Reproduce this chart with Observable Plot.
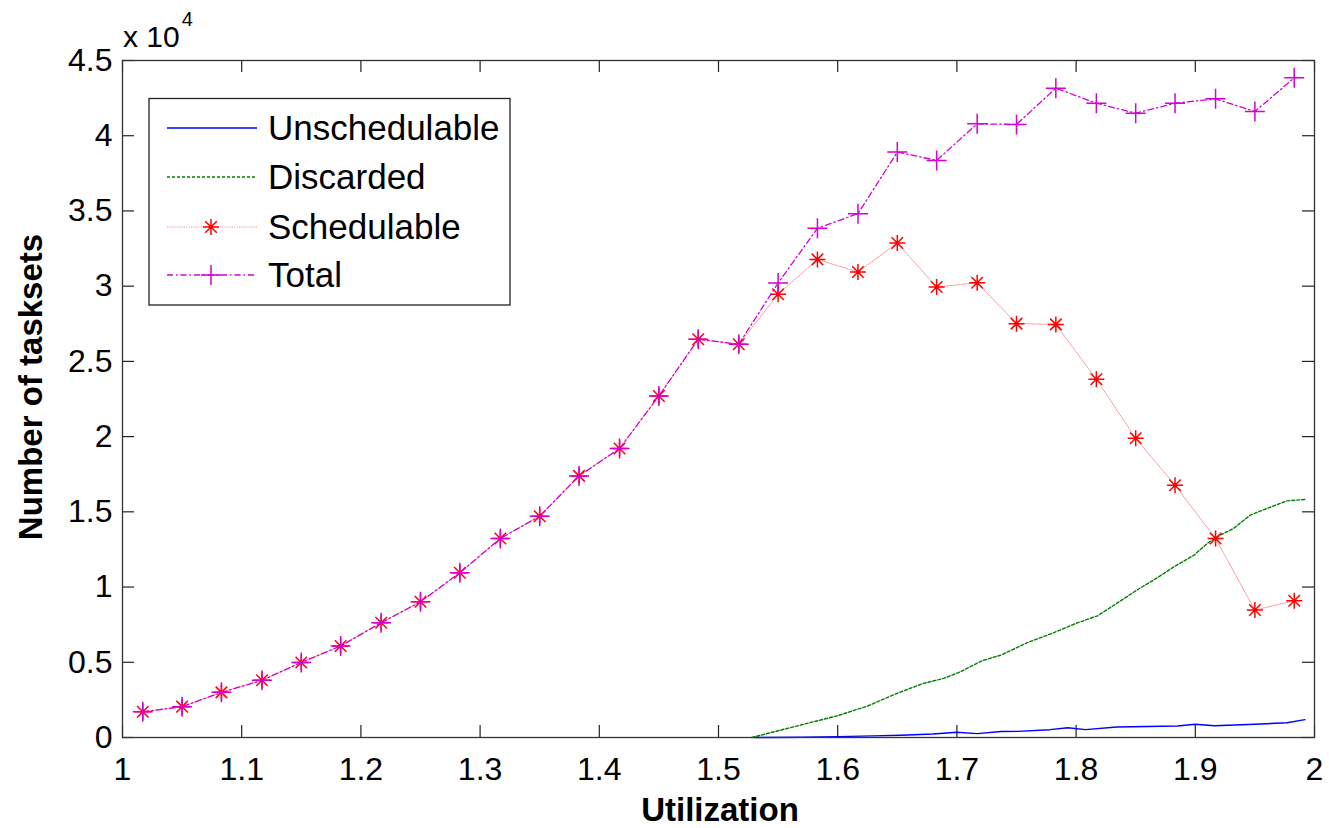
<!DOCTYPE html>
<html>
<head>
<meta charset="utf-8">
<script src="https://cdn.jsdelivr.net/npm/d3@7"></script>
<script src="https://cdn.jsdelivr.net/npm/@observablehq/plot@0.6"></script>
<style>
  html, body { margin: 0; padding: 0; background: #fff; }
  #chart { width: 1329px; height: 828px; }
</style>
</head>
<body>
<div id="chart"></div>
<script>
// ---- data ----
const utilization = [1.017, 1.05, 1.083, 1.117, 1.15, 1.183, 1.217, 1.25, 1.283, 1.317,
  1.35, 1.383, 1.417, 1.45, 1.483, 1.517, 1.55, 1.583, 1.617, 1.65,
  1.683, 1.717, 1.75, 1.783, 1.817, 1.85, 1.883, 1.917, 1.95, 1.983];
const totalValues = [1710, 2050, 3000, 3800, 4990, 6080, 7630, 9020, 10950, 13230,
  14710, 17390, 19210, 22700, 26470, 26140, 30210, 33850, 34820, 38910,
  38360, 40790, 40750, 43160, 42160, 41500, 42160, 42450, 41610, 43850];
const schedulableValues = [1710, 2050, 3000, 3800, 4990, 6080, 7630, 9020, 10950, 13230,
  14710, 17390, 19210, 22700, 26470, 26140, 29460, 31780, 30940, 32870,
  29940, 30230, 27510, 27460, 23810, 19890, 16770, 13230, 8470, 9090];
const discardedU = [1.528, 1.545, 1.569, 1.6, 1.625, 1.65, 1.672, 1.689, 1.703, 1.721,
  1.737, 1.759, 1.781, 1.801, 1.818, 1.834, 1.851, 1.865, 1.882, 1.899,
  1.91, 1.921, 1.932, 1.946, 1.96, 1.977, 1.992];
const discardedValues = [0, 350, 830, 1450, 2090, 2940, 3600, 3930, 4370, 5100,
  5480, 6300, 6960, 7620, 8090, 8910, 9800, 10460, 11340, 12120,
  12900, 13450, 13890, 14780, 15220, 15730, 15820];
const unschedU = [1.53, 1.57, 1.6, 1.63, 1.653, 1.68, 1.7, 1.717, 1.737, 1.751,
  1.778, 1.793, 1.808, 1.834, 1.885, 1.9, 1.916, 1.95, 1.977, 1.992];
const unschedValues = [0, 20, 60, 110, 150, 230, 350, 260, 400, 410,
  520, 650, 520, 700, 760, 880, 780, 880, 980, 1190];
const xTicks = [1, 1.1, 1.2, 1.3, 1.4, 1.5, 1.6, 1.7, 1.8, 1.9, 2];
const yTicks = [0, 5000, 10000, 15000, 20000, 25000, 30000, 35000, 40000, 45000];
const seriesNames = ["Unschedulable", "Discarded", "Schedulable", "Total"];

// ---- build tables ----
const totalData = utilization.map((u, i) => ({u, v: totalValues[i]}));
const schedData = utilization.map((u, i) => ({u, v: schedulableValues[i]}));
const discData = discardedU.map((u, i) => ({u, v: discardedValues[i]}));
const unschedData = unschedU.map((u, i) => ({u, v: unschedValues[i]}));

// custom MATLAB-like markers
const asterisk = {
  draw(ctx, size) {
    const r = Math.sqrt(size / Math.PI), d = r * 0.72;
    ctx.moveTo(-r, 0); ctx.lineTo(r, 0);
    ctx.moveTo(0, -r); ctx.lineTo(0, r);
    ctx.moveTo(-d, -d); ctx.lineTo(d, d);
    ctx.moveTo(-d, d); ctx.lineTo(d, -d);
  }
};
const plus = {
  draw(ctx, size) {
    const r = Math.sqrt(size / Math.PI);
    ctx.moveTo(-r, 0); ctx.lineTo(r, 0);
    ctx.moveTo(0, -r); ctx.lineTo(0, r);
  }
};

const W = 1329, H = 828;
const mL = 122, mR = 15, mT = 60, mB = 91;
const innerW = W - mL - mR, innerH = H - mT - mB;
const tickLen = 12;
const font = "'Liberation Sans', Arial, Helvetica, sans-serif";
const RED = "#ff0000", MAG = "#d400d4", GREEN = "#008000", BLUE = "#0000ff";

const svg = Plot.plot({
  width: W, height: H,
  marginLeft: mL, marginRight: mR, marginTop: mT, marginBottom: mB,
  style: {fontFamily: font, background: "#fff", color: "#000", overflow: "visible"},
  x: {domain: [1, 2]},
  y: {domain: [0, 45000]},
  marks: [
    // tick labels
    Plot.axisX(xTicks, {tickSize: 0, tickPadding: 20, fontSize: 32, label: null,
      tickFormat: d => String(+d.toFixed(1))}),
    Plot.axisY(yTicks, {tickSize: 0, tickPadding: 10, fontSize: 32, label: null,
      tickFormat: d => String(+(d / 10000).toFixed(1))}),
    // inward ticks on all four sides
    Plot.tickX(xTicks, {x: d => d, insetTop: innerH - tickLen, stroke: "#222", strokeWidth: 1.2}),
    Plot.tickX(xTicks, {x: d => d, insetBottom: innerH - tickLen, stroke: "#222", strokeWidth: 1.2}),
    Plot.tickY(yTicks, {y: d => d, insetRight: innerW - tickLen, stroke: "#222", strokeWidth: 1.2}),
    Plot.tickY(yTicks, {y: d => d, insetLeft: innerW - tickLen, stroke: "#222", strokeWidth: 1.2}),
    // series
    Plot.line(unschedData, {x: "u", y: "v", stroke: BLUE, strokeWidth: 1.4}),
    Plot.line(discData, {x: "u", y: "v", stroke: GREEN, strokeWidth: 1.4, strokeDasharray: "3,2"}),
    Plot.line(schedData, {x: "u", y: "v", stroke: RED, strokeWidth: 1, strokeOpacity: 0.45, strokeDasharray: "1.2,1.2"}),
    Plot.dot(schedData, {x: "u", y: "v", symbol: asterisk, r: 8, stroke: RED, fill: "none", strokeWidth: 1.5}),
    Plot.line(totalData, {x: "u", y: "v", stroke: MAG, strokeWidth: 1.3, strokeDasharray: "6,3,1.5,3"}),
    Plot.dot(totalData, {x: "u", y: "v", symbol: plus, r: 10, stroke: MAG, fill: "none", strokeWidth: 1.5}),
    Plot.frame({stroke: "#333", strokeWidth: 1.3})
  ]
});

document.getElementById("chart").appendChild(svg);

const s = d3.select(svg);
// axis titles
s.append("text")
  .attr("x", 720).attr("y", 821)
  .attr("text-anchor", "middle")
  .attr("font-family", font).attr("font-weight", "bold").attr("font-size", 33)
  .attr("fill", "#000")
  .text("Utilization");
s.append("text")
  .attr("transform", "translate(41.5,387) rotate(-90)")
  .attr("text-anchor", "middle")
  .attr("font-family", font).attr("font-weight", "bold").attr("font-size", 33)
  .attr("fill", "#000")
  .text("Number of tasksets");
// exponent label
const ex = s.append("text")
  .attr("x", 123).attr("y", 46.5)
  .attr("text-anchor", "start")
  .attr("font-family", font).attr("font-size", 30).attr("fill", "#000");
ex.append("tspan").text("x 10");
ex.append("tspan").attr("dy", -21).attr("dx", 2).attr("font-size", 20).text("4");

// legend
const lg = s.append("g");
lg.append("rect")
  .attr("x", 149).attr("y", 98.5).attr("width", 361).attr("height", 206.5)
  .attr("fill", "#fff").attr("stroke", "#222").attr("stroke-width", 1.3);
const rowsY = [128, 177, 227, 275];
const legendStyles = [
  {stroke: BLUE, dash: null, width: 1.4, opacity: 1, symbol: null},
  {stroke: GREEN, dash: "3,2", width: 1.4, opacity: 1, symbol: null},
  {stroke: RED, dash: "1.2,1.2", width: 1, opacity: 0.45, symbol: asterisk, r: 8},
  {stroke: MAG, dash: "6,3,1.5,3", width: 1.3, opacity: 1, symbol: plus, r: 10}
];
seriesNames.forEach((name, i) => {
  const st = legendStyles[i], y = rowsY[i];
  lg.append("line")
    .attr("x1", 167).attr("x2", 257).attr("y1", y).attr("y2", y)
    .attr("stroke", st.stroke).attr("stroke-width", st.width)
    .attr("stroke-opacity", st.opacity)
    .attr("stroke-dasharray", st.dash);
  if (st.symbol) {
    lg.append("path")
      .attr("transform", `translate(211,${y})`)
      .attr("d", d3.symbol(st.symbol, Math.PI * st.r * st.r)())
      .attr("fill", "none").attr("stroke", st.stroke).attr("stroke-width", 1.5);
  }
  lg.append("text")
    .attr("x", 268).attr("y", y).attr("dy", "0.35em")
    .attr("text-anchor", "start")
    .attr("font-family", font).attr("font-size", 35).attr("fill", "#000")
    .text(name);
});
</script>
</body>
</html>
